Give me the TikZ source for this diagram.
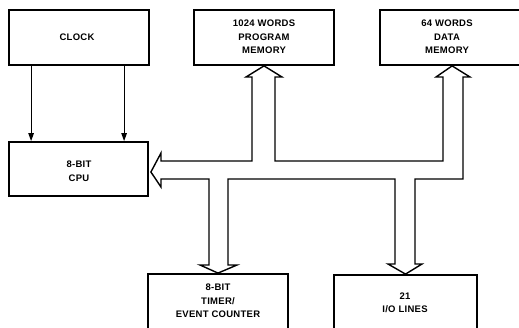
\documentclass[tikz,border=0pt]{standalone}
\usepackage{fontspec}
\setmainfont{Liberation Sans}
\usetikzlibrary{arrows.meta,calc}
\begin{document}
\begin{tikzpicture}[x=1pt,y=-1pt,
  box/.style={draw,line width=1.8pt,inner sep=0pt},
  lbl/.style={align=center,font=\fontsize{9.5}{13.5}\selectfont\bfseries\addfontfeature{LetterSpace=3}},
  clk/.style={line width=1pt,-{Triangle[length=8pt,width=5.5pt]}},
  bus/.style={line width=1.4pt,line join=miter}]
\useasboundingbox (0,0) rectangle (519,327);
\begin{scope}
\clip (0,0) rectangle (519,327);
% boxes
\node[box,minimum width=140pt,minimum height=55pt] (clock) at (79,37.5) {};
\node[lbl] (clocktxt) at (77,37) {CLOCK};
\node[box,minimum width=139pt,minimum height=54pt] (cpu) at (78.5,169) {};
\node[lbl] (cputxt) at (79,171) {8-BIT\\CPU};
\node[box,minimum width=140pt,minimum height=55pt] (prog) at (264,37.5) {};
\node[lbl] (progtxt) at (264,37) {1024 WORDS\\PROGRAM\\MEMORY};
\node[box,minimum width=180pt,minimum height=55pt] (data) at (470,37.5) {};
\node[lbl] (datatxt) at (447,37) {64 WORDS\\DATA\\MEMORY};
\node[box,minimum width=140pt,minimum height=80pt] (timer) at (218,314) {};
\node[lbl] (timertxt) at (218,301) {8-BIT\\TIMER/\\EVENT COUNTER};
\node[box,minimum width=143pt,minimum height=80pt] (io) at (405.5,315) {};
\node[lbl] (iotxt) at (405,303) {21\\I/O LINES};
\end{scope}
% clock lines
\draw[clk] ([xshift=23pt]clock.south west) -- ([xshift=23pt]cpu.north west);
\draw[clk] ([xshift=116pt]clock.south west) -- ([xshift=116pt]cpu.north west);
% bus tips
\coordinate (tcpu) at ($(cpu.east)+(2,3)$);
\coordinate (tprog) at (prog.south);
\coordinate (tdata) at ($(data.south west)+(73,0)$);
\coordinate (ttim) at (timer.north);
\coordinate (tio) at (io.north);
% bus outline
\draw[bus] (tcpu) -- (161,153) -- (161,161) -- (252,161) -- (252,77) -- (246,77)
  -- (tprog) -- (282,77) -- (275,77) -- (275,161) -- (443,161) -- (443,77)
  -- (436,77) -- (tdata) -- (470,77) -- (463,77) -- (463,179) -- (415,179)
  -- (415,264) -- (422,264) -- (tio) -- (388,264) -- (395,264) -- (395,179)
  -- (228,179) -- (228,265) -- (237,265) -- (ttim) -- (200,265) -- (209,265)
  -- (209,179) -- (161,179) -- (161,187) -- cycle;
\end{tikzpicture}
\end{document}
